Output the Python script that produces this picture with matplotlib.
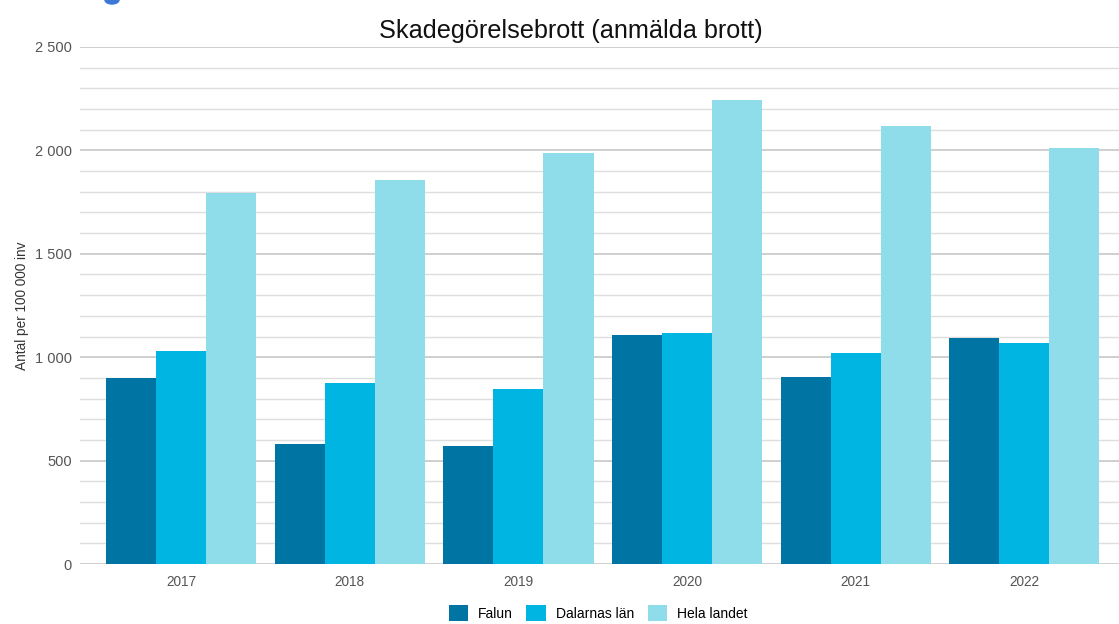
import matplotlib.pyplot as plt
import numpy as np
from matplotlib.patches import Ellipse
from matplotlib.ticker import FuncFormatter, MultipleLocator

plt.rcParams["font.family"] = ["Liberation Sans", "DejaVu Sans"]

years = ["2017", "2018", "2019", "2020", "2021", "2022"]
falun = [898, 582, 571, 1109, 903, 1091]
dalarna = [1030, 874, 845, 1118, 1022, 1070]
hela_landet = [1796, 1857, 1988, 2244, 2120, 2013]

series = [
    ("Falun", falun, "#0074a2"),
    ("Dalarnas län", dalarna, "#00b5e2"),
    ("Hela landet", hela_landet, "#8fdcea"),
]

fig = plt.figure(figsize=(11.19, 6.24), dpi=100)
ax = fig.add_axes([80 / 1119, 60 / 624, 1039 / 1119, 517 / 624])

x = np.arange(len(years))
width = 0.297
for i, (name, values, color) in enumerate(series):
    ax.bar(x + (i - 1) * width, values, width, color=color, label=name, zorder=3)

ax.set_xlim(-0.6, 5.562)
ax.set_ylim(0, 2500)
ax.yaxis.set_major_locator(MultipleLocator(500))
ax.yaxis.set_minor_locator(MultipleLocator(100))
ax.yaxis.set_major_formatter(FuncFormatter(lambda v, _: f"{int(v):,}".replace(",", " ")))
ax.grid(axis="y", which="major", color="#cccccc", linewidth=1.3, zorder=0)
ax.grid(axis="y", which="minor", color="#dedede", linewidth=1.0, zorder=0)
ax.set_axisbelow(True)
for side in ["top", "right", "left", "bottom"]:
    ax.spines[side].set_visible(False)

ax.set_xticks(x)
ax.set_xticklabels(years)
ax.tick_params(axis="x", length=0, pad=8, labelsize=9.8, labelcolor="#555555")
ax.tick_params(axis="y", which="both", length=0, pad=6, labelsize=10.5, labelcolor="#555555")
ax.set_ylabel("Antal per 100 000 inv", fontsize=9.8, color="#333333", labelpad=4)

fig.text(571 / 1119, 1 - 38 / 624, "Skadegörelsebrott (anmälda brott)",
         ha="center", va="baseline", fontsize=18.2, color="#111111")

# cropped fragment of a heading above the chart
fig.patches.append(Ellipse((112 / 1119, 1.0), 14 / 1119, 8 / 624, color="#3b78d8",
                           transform=fig.transFigure, figure=fig))

ax.legend(loc="center", bbox_to_anchor=(598 / 1119, 1 - 613 / 624), bbox_transform=fig.transFigure,
          ncol=3, frameon=False, fontsize=10, handlelength=1.4, handleheight=1.4,
          handletextpad=0.7, columnspacing=1.0)

fig.savefig("out.png", dpi=100)
